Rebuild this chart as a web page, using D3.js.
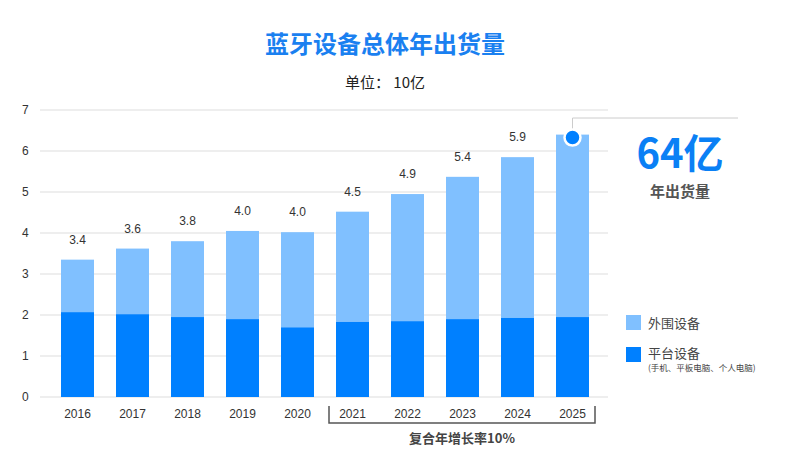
<!DOCTYPE html><html><head><meta charset="utf-8"><script src="https://cdn.jsdelivr.net/npm/d3@7"></script>
<style>body{margin:0;background:#fff;font-family:"Noto Sans CJK SC","Noto Sans",sans-serif}</style></head><body><svg id="c" width="791" height="465"></svg>
<script>
const years=["2016","2017","2018","2019","2020","2021","2022","2023","2024","2025"];
const platform=[2.07,2.02,1.95,1.9,1.7,1.83,1.85,1.9,1.93,1.95];
const total=[3.35,3.62,3.8,4.05,4.02,4.52,4.95,5.37,5.85,6.4];
const totalLabels=["3.4","3.6","3.8","4.0","4.0","4.5","4.9","5.4","5.9",""];
const yTicks=[0,1,2,3,4,5,6,7];
const svg=d3.select("#c");
const x=d3.scaleBand().domain(years).range([50,600]).paddingInner(0.4).paddingOuter(0.2);
const y=d3.scaleLinear().domain([0,7]).range([397,110]);
const LIGHT="#80c0ff",DARK="#0080ff";
svg.append("text").attr("x",385).attr("y",53).attr("text-anchor","middle").attr("font-size",24).attr("font-weight","bold").attr("fill","#1a80f0").text("蓝牙设备总体年出货量");
svg.append("text").attr("x",385).attr("y",88).attr("text-anchor","middle").attr("font-size",15).attr("fill","#222").text("单位： 10亿");
yTicks.forEach(t=>{
 svg.append("line").attr("x1",40).attr("x2",608).attr("y1",y(t)).attr("y2",y(t)).attr("stroke","#ddd");
 svg.append("text").attr("x",22).attr("y",y(t)+4).attr("font-size",12).attr("fill","#333").attr("font-family","Liberation Sans,Arial").text(t);
});
const g=svg.selectAll("g.b").data(years).enter().append("g");
g.append("rect").attr("x",d=>x(d)).attr("width",x.bandwidth()).attr("y",(d,i)=>y(total[i])).attr("height",(d,i)=>y(platform[i])-y(total[i])).attr("fill",LIGHT);
g.append("rect").attr("x",d=>x(d)).attr("width",x.bandwidth()).attr("y",(d,i)=>y(platform[i])).attr("height",(d,i)=>y(0)-y(platform[i])).attr("fill",DARK);
g.append("text").attr("x",d=>x(d)+x.bandwidth()/2).attr("y",(d,i)=>y(total[i])-16).attr("text-anchor","middle").attr("font-size",12).attr("fill","#333").attr("font-family","Liberation Sans,Arial").text((d,i)=>totalLabels[i]);
g.append("text").attr("x",d=>x(d)+x.bandwidth()/2).attr("y",418).attr("text-anchor","middle").attr("font-size",12).attr("fill","#333").attr("font-family","Liberation Sans,Arial").text(d=>d);
const bx1=x("2021")-7,bx2=x("2025")+x.bandwidth()+6;
svg.append("path").attr("d",`M${bx1},406V423H${bx2}V406`).attr("fill","none").attr("stroke","#555").attr("stroke-width",1.5);
svg.append("text").attr("x",(bx1+bx2)/2).attr("y",443).attr("text-anchor","middle").attr("font-size",13).attr("font-weight","bold").attr("fill","#444").text("复合年增长率10%");
const cx=x("2025")+x.bandwidth()/2,cy=y(total[9])+3;
svg.append("path").attr("d",`M${cx},${cy}V118H738`).attr("fill","none").attr("stroke","#ccc");
svg.append("circle").attr("cx",cx).attr("cy",cy).attr("r",8).attr("fill",DARK).attr("stroke","#fff").attr("stroke-width",2.5);
svg.append("text").attr("x",680).attr("y",168).attr("text-anchor","middle").attr("font-size",40).attr("font-weight","bold").attr("fill","#0a80f5").text("64亿");
svg.append("text").attr("x",680).attr("y",197).attr("text-anchor","middle").attr("font-size",15).attr("font-weight","bold").attr("fill","#555").text("年出货量");
svg.append("rect").attr("x",626).attr("y",315).attr("width",15).attr("height",15).attr("fill",LIGHT);
svg.append("text").attr("x",648).attr("y",328).attr("font-size",13).attr("fill","#444").text("外围设备");
svg.append("rect").attr("x",626).attr("y",347).attr("width",15).attr("height",15).attr("fill",DARK);
svg.append("text").attr("x",648).attr("y",358).attr("font-size",13).attr("fill","#444").text("平台设备");
svg.append("text").attr("x",648).attr("y",371).attr("font-size",8.5).attr("fill","#444").text("(手机、平板电脑、个人电脑)");
</script></body></html>
